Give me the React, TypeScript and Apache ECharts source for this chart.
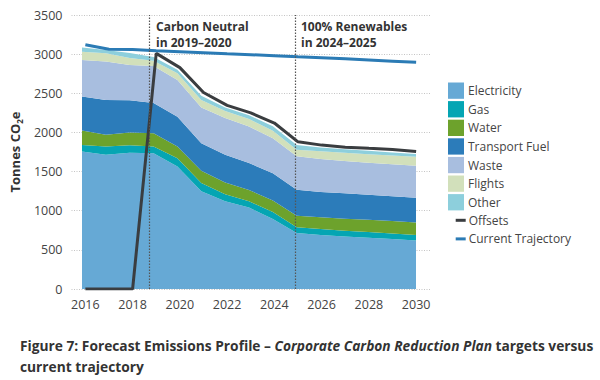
import React, { useEffect, useRef } from "react";
import * as echarts from "echarts";

const years = [2016, 2017, 2018, 2019, 2020, 2021, 2022, 2023, 2024, 2025, 2026, 2027, 2028, 2029, 2030];
const xTicks = [2016, 2018, 2020, 2022, 2024, 2026, 2028, 2030];

const electricity = [1755, 1715, 1740, 1735, 1565, 1250, 1120, 1040, 895, 714, 690, 672, 655, 638, 620];
const gas = [85, 105, 95, 85, 105, 105, 90, 80, 90, 76, 75, 73, 72, 72, 70];
const water = [185, 150, 165, 170, 150, 155, 150, 145, 145, 145, 150, 153, 157, 158, 160];
const transportFuel = [433, 445, 410, 385, 380, 353, 354, 343, 350, 332, 325, 324, 319, 317, 315];
const waste = [468, 490, 450, 475, 470, 457, 471, 467, 445, 430, 420, 413, 409, 408, 410];
const flights = [104, 107, 90, 65, 85, 95, 90, 95, 95, 83, 100, 107, 110, 112, 115];
const other = [55, 40, 65, 50, 45, 55, 45, 50, 60, 61, 48, 43, 43, 40, 35];
const offsets = [0, 0, 0, 3010, 2828, 2510, 2345, 2250, 2120, 1880, 1838, 1812, 1797, 1783, 1756];
const currentTrajectory = [3120, 3062, 3058, 3042, 3030, 3018, 3005, 2993, 2980, 2967, 2955, 2940, 2925, 2910, 2895];

const carbonNeutralX = 2018.72;
const renewablesX = 2024.9;

const FONT = "'Open Sans', 'Noto Sans', sans-serif";
const TEXT = "#444";

const areaDefs = [
  { name: "Electricity", data: electricity, color: "#66a9d5" },
  { name: "Gas", data: gas, color: "#05a5b3" },
  { name: "Water", data: water, color: "#6da22c" },
  { name: "Transport Fuel", data: transportFuel, color: "#2c7cba" },
  { name: "Waste", data: waste, color: "#a8bedf" },
  { name: "Flights", data: flights, color: "#d2e0bb" },
  { name: "Other", data: other, color: "#8dcfdc" },
];

export default function App() {
  const ref = useRef<HTMLDivElement>(null);
  useEffect(() => {
    if (!ref.current) return;
    const chart = echarts.init(ref.current, null, { renderer: "svg" });
    const pair = (arr: number[]) => years.map((y, i) => [y, arr[i]]);
    const areaSeries = areaDefs.map((d) => ({
      name: d.name,
      type: "line",
      stack: "total",
      xAxisIndex: 1,
      yAxisIndex: 1,
      data: d.data,
      symbol: "none",
      lineStyle: { width: 0 },
      itemStyle: { color: d.color },
      areaStyle: { color: d.color, opacity: 1 },
      emphasis: { disabled: true },
      z: 2,
    }));
    const annot = {
      fontFamily: FONT,
      fontWeight: "bold",
      fontSize: 12,
      lineHeight: 16,
      fill: "#333",
    };
    chart.setOption({
      animation: false,
      grid: [
        { left: 68, right: 170, top: 15, bottom: 91, containLabel: false },
        { left: 82, right: 184, top: 15, bottom: 91, containLabel: false },
      ],
      xAxis: [
        {
          type: "value",
          gridIndex: 0,
          min: 2015.413,
          max: 2030.587,
          splitLine: { show: false },
          axisLine: { show: false },
          axisTick: { show: false },
          axisLabel: {
            customValues: xTicks,
            formatter: (v: number) => String(v),
            color: TEXT,
            fontFamily: FONT,
            fontSize: 12.5,
            margin: 9,
          },
        },
        {
          type: "category",
          gridIndex: 1,
          data: years.map(String),
          boundaryGap: false,
          show: false,
        },
      ],
      yAxis: [
        {
          type: "value",
          gridIndex: 0,
          min: 0,
          max: 3500,
          interval: 500,
          name: "{a|Tonnes CO}{s|2}{a|e}",
          nameLocation: "middle",
          nameGap: 46,
          nameRotate: 90,
          nameTextStyle: {
            rich: {
              a: { fontFamily: FONT, fontWeight: "bold", fontSize: 13, color: "#333", lineHeight: 16, verticalAlign: "bottom" },
              s: { fontFamily: FONT, fontWeight: "bold", fontSize: 8, color: "#333", lineHeight: 12, verticalAlign: "bottom", padding: [0, 0, -2, 0] },
            },
          },
          axisLine: { show: false },
          axisTick: { show: false },
          axisLabel: { color: TEXT, fontFamily: FONT, fontSize: 12.5, margin: 9, formatter: (v: number) => String(v) },
          splitLine: { lineStyle: { color: "#c4c4c4", type: [1, 1.5], width: 1 } },
        },
        {
          type: "value",
          gridIndex: 1,
          min: 0,
          max: 3500,
          interval: 500,
          show: false,
          splitLine: { show: false },
        },
      ],
      legend: [
        {
          data: areaDefs.map((d) => d.name),
          orient: "vertical",
          left: 448,
          top: 82.5,
          padding: 0,
          itemWidth: 16,
          itemHeight: 16.3,
          itemGap: 2.3,
          icon: "rect",
          selectedMode: false,
          textStyle: { color: TEXT, fontFamily: FONT, fontSize: 12, lineHeight: 16, padding: [0, 0, 0, -1] },
        },
        {
          data: ["Offsets", "Current Trajectory"],
          orient: "vertical",
          left: 455.7,
          top: 212.3,
          padding: 0,
          itemWidth: 10,
          itemHeight: 3,
          itemGap: 2.6,
          icon: "rect",
          selectedMode: false,
          textStyle: { color: TEXT, fontFamily: FONT, fontSize: 12, lineHeight: 16, padding: [0, 0, 0, -2] },
        },
      ],
      series: [
        ...areaSeries,
        {
          name: "Offsets",
          type: "line",
          xAxisIndex: 0,
          yAxisIndex: 0,
          data: pair(offsets),
          symbol: "none",
          lineStyle: { color: "#3a3d40", width: 3 },
          itemStyle: { color: "#3a3d40" },
          emphasis: { disabled: true },
          z: 3,
        },
        {
          name: "Current Trajectory",
          type: "line",
          xAxisIndex: 0,
          yAxisIndex: 0,
          data: pair(currentTrajectory),
          symbol: "none",
          lineStyle: { color: "#2b7bb5", width: 3 },
          itemStyle: { color: "#2b7bb5" },
          emphasis: { disabled: true },
          z: 4,
          markLine: {
            silent: true,
            symbol: ["none", "none"],
            label: { show: false },
            lineStyle: { color: "#555", type: [1.5, 1.5], width: 1.2 },
            data: [{ xAxis: carbonNeutralX }, { xAxis: renewablesX }],
          },
        },
      ],
      graphic: [
        {
          type: "text",
          left: 156,
          top: 18,
          style: { ...annot, text: "Carbon Neutral\nin 2019–2020" },
        },
        {
          type: "text",
          left: 301,
          top: 18,
          style: { ...annot, text: "100% Renewables\nin 2024–2025" },
        },
        {
          type: "text",
          left: 20,
          top: 338,
          style: {
            text:
              "{b|Figure 7: Forecast Emissions Profile – }{i|Corporate Carbon Reduction Plan}{b| targets versus}\n{b|current trajectory}",
            rich: {
              b: { fontFamily: FONT, fontWeight: "bold", fontSize: 13.75, fill: "#333", lineHeight: 21 },
              i: { fontFamily: FONT, fontWeight: "bold", fontStyle: "italic", fontSize: 13.75, fill: "#333", lineHeight: 21 },
            },
          },
        },
      ],
    });
    return () => chart.dispose();
  }, []);
  return <div ref={ref} style={{ position: "fixed", left: 0, top: 0, width: 600, height: 380, background: "#fff" }} />;
}
